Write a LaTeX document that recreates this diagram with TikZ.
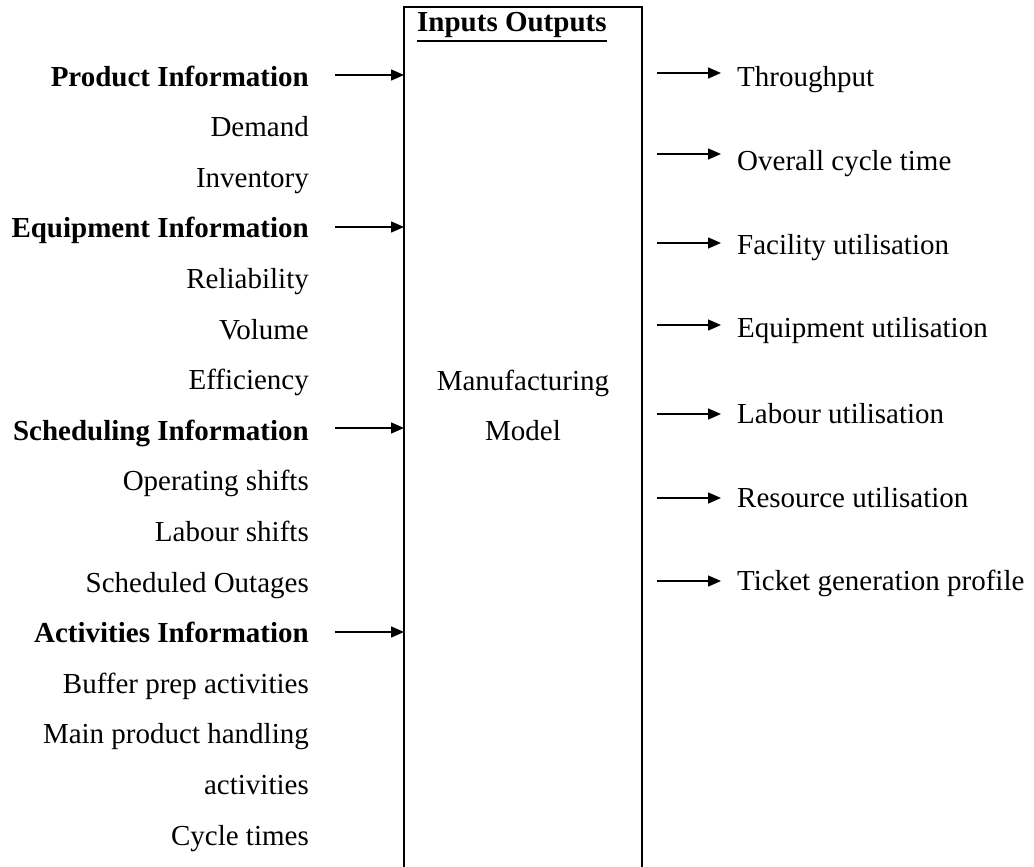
\documentclass[tikz,border=0pt]{standalone}
\usepackage{fontspec}
\setmainfont{Liberation Serif}
\usetikzlibrary{arrows.meta}
\newlength\myulw
\newcommand\myul[1]{\settowidth\myulw{#1}\rlap{\rule[-10pt]{\myulw}{2pt}}#1}
\begin{document}
\begin{tikzpicture}[x=1pt,y=-1pt,
  txt/.style={inner sep=0pt, font=\fontsize{29}{50}\selectfont},
  inl/.style={txt, anchor=base east},
  inh/.style={inl, font=\fontsize{29}{50}\selectfont\bfseries},
  outl/.style={txt, anchor=base west},
  arr/.style={line width=1.5pt, -{Triangle[length=13pt,width=11pt]}},
  boxline/.style={line width=2.2pt}]
\useasboundingbox (0,0) rectangle (1034,867);
% box (open at the bottom)
\coordinate (bl) at (404,875);
\coordinate (tl) at (404,7);
\coordinate (tr) at (642,7);
\coordinate (br) at (642,875);
\draw[boxline] (bl) -- (tl) -- (tr) -- (br);
\node[txt, anchor=base west, font=\fontsize{29}{50}\selectfont\bfseries] (hdr) at (417,32) {\myul{Inputs Outputs}};
\node[txt, anchor=base, align=center] (model) at (523,440) {Manufacturing\\Model};
% inputs
\node[inh] (i1) at (309,86) {Product Information};
\node[inl] (i2) at (309,136.6) {Demand};
\node[inl] (i3) at (309,187.2) {Inventory};
\node[inh] (i4) at (309,237.8) {Equipment Information};
\node[inl] (i5) at (309,288.4) {Reliability};
\node[inl] (i6) at (309,339) {Volume};
\node[inl] (i7) at (309,389.6) {Efficiency};
\node[inh] (i8) at (309,440.2) {Scheduling Information};
\node[inl] (i9) at (309,490.8) {Operating shifts};
\node[inl] (i10) at (309,541.4) {Labour shifts};
\node[inl] (i11) at (309,592) {Scheduled Outages};
\node[inh] (i12) at (309,642.6) {Activities Information};
\node[inl] (i13) at (309,693.2) {Buffer prep activities};
\node[inl] (i14) at (309,743.8) {Main product handling};
\node[inl] (i15) at (309,794.4) {activities};
\node[inl] (i16) at (309,845) {Cycle times};
% input arrows
\coordinate (a1s) at (335,75);  \coordinate (a1e) at (404,75);
\coordinate (a2s) at (335,227); \coordinate (a2e) at (404,227);
\coordinate (a3s) at (335,428); \coordinate (a3e) at (404,428);
\coordinate (a4s) at (335,632); \coordinate (a4e) at (404,632);
\draw[arr] (a1s) -- (a1e);
\draw[arr] (a2s) -- (a2e);
\draw[arr] (a3s) -- (a3e);
\draw[arr] (a4s) -- (a4e);
% outputs
\node[outl] (o1) at (737,86) {Throughput};
\node[outl] (o2) at (737,170) {Overall cycle time};
\node[outl] (o3) at (737,254) {Facility utilisation};
\node[outl] (o4) at (737,337) {Equipment utilisation};
\node[outl] (o5) at (737,423) {Labour utilisation};
\node[outl] (o6) at (737,507) {Resource utilisation};
\node[outl] (o7) at (737,590) {Ticket generation profile};
% output arrows
\coordinate (b1s) at (657,73);  \coordinate (b1e) at (721,73);
\coordinate (b2s) at (657,154); \coordinate (b2e) at (721,154);
\coordinate (b3s) at (657,243); \coordinate (b3e) at (721,243);
\coordinate (b4s) at (657,325); \coordinate (b4e) at (721,325);
\coordinate (b5s) at (657,414); \coordinate (b5e) at (721,414);
\coordinate (b6s) at (657,498); \coordinate (b6e) at (721,498);
\coordinate (b7s) at (657,581); \coordinate (b7e) at (721,581);
\draw[arr] (b1s) -- (b1e);
\draw[arr] (b2s) -- (b2e);
\draw[arr] (b3s) -- (b3e);
\draw[arr] (b4s) -- (b4e);
\draw[arr] (b5s) -- (b5e);
\draw[arr] (b6s) -- (b6e);
\draw[arr] (b7s) -- (b7e);
\end{tikzpicture}
\end{document}
